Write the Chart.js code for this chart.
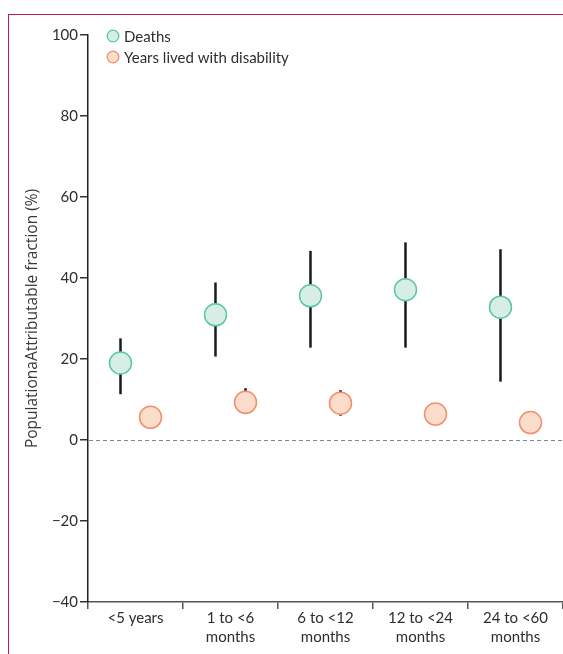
<!DOCTYPE html>
<html>
<head>
<meta charset="utf-8">
<script src="https://cdn.jsdelivr.net/npm/chart.js@4.4.1/dist/chart.umd.min.js"></script>
<style>
  html, body { margin: 0; padding: 0; background: #fff; }
  #wrap { position: relative; width: 563px; height: 654px; overflow: hidden; }
  #frame { position: absolute; left: 8px; top: 14px; right: 0; bottom: 0; border-left: 1.5px solid #c81a4c; border-top: 1.5px solid #c81a4c; }
  #chart { position: absolute; left: 0; top: 0; }
</style>
</head>
<body>
<div id="wrap">
  <div id="frame"></div>
  <canvas id="chart" width="563" height="654"></canvas>
</div>
<script>
// age groups (x categories)
const categories = [["<5 years"], ["1 to <6", "months"], ["6 to <12", "months"], ["12 to <24", "months"], ["24 to <60", "months"]]
const seriesNames = ["Deaths", "Years lived with disability"]

// population attributable fraction (%), point estimate + uncertainty interval
const deaths = [19.0, 30.9, 35.6, 37.1, 32.8]
const deathsLow = [11.3, 20.6, 22.8, 22.8, 14.4]
const deathsHigh = [25.1, 38.9, 46.7, 48.8, 47.1]
const yld = [5.6, 9.3, 9.1, 6.4, 4.3]
const yldLow = [4.0, 6.4, 6.0, 4.8, 3.0]
const yldHigh = [7.2, 12.8, 12.3, 8.0, 5.6]

const yTicks = [-40, -20, 0, 20, 40, 60, 80, 100]

const FONT = "Lato, 'Open Sans', sans-serif"
const TITLE_FONT = "'Open Sans', sans-serif"
const TEXT = "#2e2e2e"
const shift = 0.158  // half the gap between the two markers of a group, in category units

const deathsStyle = { fill: "#d6eee5", border: "#5ec6a6" }
const yldStyle = { fill: "#fcdccb", border: "#f2906d" }

function toPoints(vals, dx) { return vals.map((v, i) => ({ x: i + 0.5 + dx, y: v })) }

// whiskers drawn underneath the circles
const errorBars = {
  id: "errorBars",
  beforeDatasetsDraw(chart) {
    const { ctx, scales: { x, y } } = chart
    const sets = [[deathsLow, deathsHigh, -shift], [yldLow, yldHigh, shift]]
    ctx.save()
    ctx.strokeStyle = "#1a1a1a"
    ctx.lineWidth = 2.5
    sets.forEach(([lo, hi, dx]) => {
      lo.forEach((l, i) => {
        const px = x.getPixelForValue(i + 0.5 + dx)
        ctx.beginPath()
        ctx.moveTo(px, y.getPixelForValue(l))
        ctx.lineTo(px, y.getPixelForValue(hi[i]))
        ctx.stroke()
      })
    })
    ctx.restore()
  }
}

// dashed reference line at 0
const zeroLine = {
  id: "zeroLine",
  beforeDatasetsDraw(chart) {
    const { ctx, chartArea, scales: { y } } = chart
    const py = Math.round(y.getPixelForValue(0)) + 0.5
    ctx.save()
    ctx.strokeStyle = "#6f8e9a"
    ctx.lineWidth = 1.2
    ctx.setLineDash([4, 3])
    ctx.beginPath()
    ctx.moveTo(chartArea.left + 1, py)
    ctx.lineTo(chartArea.right, py)
    ctx.stroke()
    ctx.restore()
  }
}

// legend in the top-left corner of the plot
const cornerLegend = {
  id: "cornerLegend",
  afterDraw(chart) {
    const { ctx, chartArea } = chart
    const styles = [deathsStyle, yldStyle]
    ctx.save()
    ctx.font = "15px " + FONT
    ctx.textBaseline = "middle"
    seriesNames.forEach((name, i) => {
      const cx = chartArea.left + 25, cy = chartArea.top + 1 + i * 21
      ctx.beginPath()
      ctx.arc(cx, cy, 5.8, 0, Math.PI * 2)
      ctx.fillStyle = styles[i].fill
      ctx.fill()
      ctx.lineWidth = 1.3
      ctx.strokeStyle = styles[i].border
      ctx.stroke()
      ctx.fillStyle = TEXT
      ctx.fillText(name, cx + 11, cy + 1)
    })
    ctx.restore()
  }
}

const ctx = document.getElementById("chart").getContext("2d")
// eslint-disable-next-line no-undef
new Chart(ctx, {
  type: "scatter",
  data: {
    datasets: [
      { label: seriesNames[0], data: toPoints(deaths, -shift), backgroundColor: deathsStyle.fill, borderColor: deathsStyle.border, borderWidth: 1.5, pointRadius: 11, pointHoverRadius: 11 },
      { label: seriesNames[1], data: toPoints(yld, shift), backgroundColor: yldStyle.fill, borderColor: yldStyle.border, borderWidth: 1.5, pointRadius: 11, pointHoverRadius: 11 }
    ]
  },
  options: {
    responsive: false,
    animation: false,
    layout: { autoPadding: false, padding: { top: 35, left: 0, right: 0, bottom: 0 } },
    plugins: { legend: { display: false }, tooltip: { enabled: false } },
    scales: {
      x: {
        type: "linear", min: 0, max: 5,
        afterBuildTicks(scale) {
          const t = []
          for (let v = 0; v <= 5; v += 0.5) t.push({ value: v })
          scale.ticks = t
        },
        afterFit(scale) { scale.height = 52; scale.paddingLeft = 0; scale.paddingRight = 0 },
        border: { color: "#555", width: 1.5 },
        grid: { drawOnChartArea: false, tickLength: 7, lineWidth: 1.5, color: (c) => (c.tick && c.tick.value % 1 === 0 ? "#555" : "rgba(0,0,0,0)") },
        ticks: {
          autoSkip: false, maxRotation: 0, padding: 0, color: TEXT,
          font: { family: FONT, size: 15, lineHeight: 1.25 },
          callback: (v) => (v % 1 === 0 ? "" : categories[Math.floor(v)])
        }
      },
      y: {
        min: -40, max: 100,
        afterBuildTicks(scale) { scale.ticks = yTicks.map((v) => ({ value: v })) },
        afterFit(scale) { scale.width = 88 },
        border: { color: "#222", width: 1.5 },
        grid: { drawOnChartArea: false, tickLength: 8, lineWidth: 1.5, color: "#333" },
        ticks: { padding: 2, color: TEXT, font: { family: FONT, size: 15 }, callback: (v) => String(v).replace("-", "\u2212") },
        title: { display: true, text: "PopulationaAttributable fraction (%)", color: "#3a3a3a", font: { family: TITLE_FONT, size: 15.5 }, padding: { top: 23, bottom: 0 } }
      }
    }
  },
  plugins: [zeroLine, errorBars, cornerLegend]
})
</script>
</body>
</html>
